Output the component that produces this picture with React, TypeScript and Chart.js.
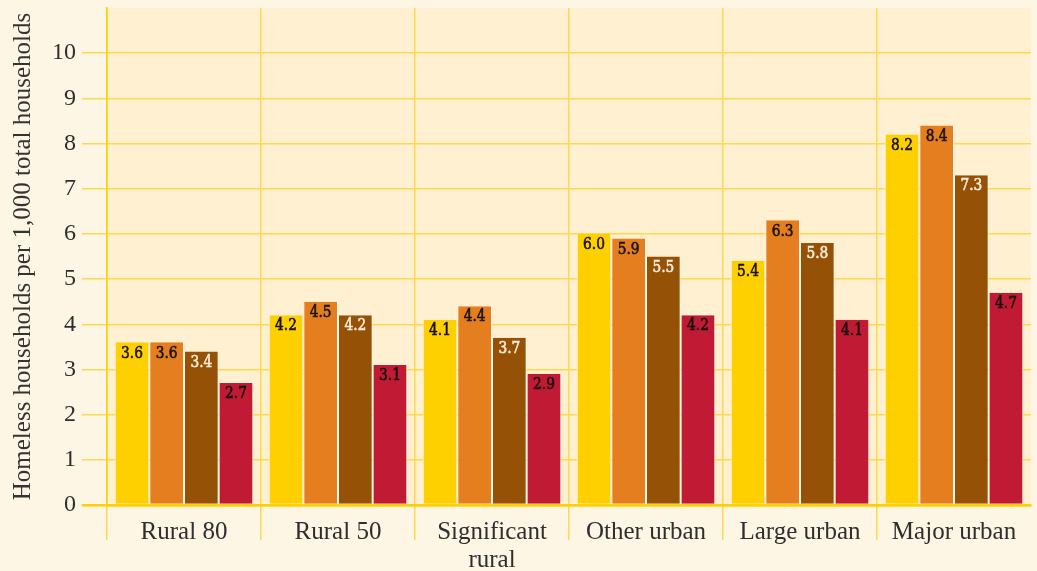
import { useEffect, useRef } from 'react';
import { Chart, registerables } from 'chart.js';

Chart.register(...registerables);

const categories: (string | string[])[] = [
  'Rural 80',
  'Rural 50',
  ['Significant', 'rural'],
  'Other urban',
  'Large urban',
  'Major urban',
];
const series1 = [3.6, 4.2, 4.1, 6.0, 5.4, 8.2];
const series2 = [3.6, 4.5, 4.4, 5.9, 6.3, 8.4];
const series3 = [3.4, 4.2, 3.7, 5.5, 5.8, 7.3];
const series4 = [2.7, 3.1, 2.9, 4.2, 4.1, 4.7];
const seriesNames = ['Series 1', 'Series 2', 'Series 3', 'Series 4'];
const yTickValues = [0, 1, 2, 3, 4, 5, 6, 7, 8, 9, 10];
const yAxisTitle = 'Homeless households per 1,000 total households';

const PAGE_BG = '#fef6e5';
const PLOT_BG = '#fff0d1';
const GOLD = '#ffd84d';
const GOLD_STRONG = '#ffd000';
const barColors = ['#ffd000', '#e47e1f', '#955206', '#c01a34'];
const labelColors = ['#1a1410', '#1a1410', '#f8ecd8', '#1a1010'];

const bgPlugin = {
  id: 'bgPlugin',
  beforeDraw(chart: any) {
    const { ctx, chartArea } = chart;
    ctx.save();
    ctx.fillStyle = PAGE_BG;
    ctx.fillRect(0, 0, chart.width, chart.height);
    ctx.fillStyle = PLOT_BG;
    ctx.fillRect(chartArea.left, chartArea.top, chartArea.right - chartArea.left, chartArea.bottom - chartArea.top);
    ctx.restore();
  },
};

const LABEL_SCALE_X = 0.86;

const valueLabelPlugin = {
  id: 'valueLabelPlugin',
  afterDatasetsDraw(chart: any) {
    const { ctx } = chart;
    chart.data.datasets.forEach((ds: any, di: number) => {
      const meta = chart.getDatasetMeta(di);
      meta.data.forEach((el: any, i: number) => {
        const v = ds.data[i] as number;
        const txt = v.toFixed(1);
        ctx.save();
        ctx.font = '16px "DejaVu Serif"';
        ctx.textAlign = 'center';
        ctx.textBaseline = 'middle';
        ctx.fillStyle = labelColors[di];
        ctx.strokeStyle = labelColors[di];
        ctx.lineWidth = 0.6;
        ctx.translate(el.x, el.y + 11);
        ctx.scale(LABEL_SCALE_X, 1);
        ctx.fillText(txt, 0, 0);
        ctx.strokeText(txt, 0, 0);
        ctx.restore();
      });
    });
  },
};

export default function App() {
  const ref = useRef<HTMLCanvasElement>(null);

  useEffect(() => {
    document.body.style.margin = '0';
    document.body.style.background = PAGE_BG;
    const all = [series1, series2, series3, series4];
    const chart = new Chart(ref.current!, {
      type: 'bar',
      data: {
        labels: categories as any,
        datasets: all.map((d, i) => ({
          label: seriesNames[i],
          data: d,
          backgroundColor: barColors[i],
          borderColor: '#fff8ec',
          borderWidth: { left: 1, right: 1, top: 0, bottom: 0 },
          borderSkipped: false,
          barPercentage: 1,
          categoryPercentage: 0.9,
        })),
      },
      options: {
        animation: false,
        responsive: false,
        maintainAspectRatio: false,
        layout: { padding: { top: 8, right: 6, bottom: 0, left: 0 } },
        plugins: {
          legend: { display: false },
          tooltip: { enabled: false },
        },
        scales: {
          x: {
            offset: true,
            grid: {
              offset: true,
              color: (c: any) => (c.tick ? GOLD : 'rgba(0,0,0,0)'),
              lineWidth: 1.5,
              tickLength: 35,
              drawTicks: true,
            },
            border: { display: true, color: GOLD_STRONG, width: 2.5 },
            ticks: {
              color: '#2e2e2e',
              font: { family: '"Liberation Serif"', size: 25, lineHeight: 1.1 },
              padding: -21,
              maxRotation: 0,
              autoSkip: false,
            },
            afterFit: (s: any) => {
              s.height = 66;
              s.paddingLeft = 0;
              s.paddingRight = 0;
            },
          },
          y: {
            min: 0,
            max: 11,
            afterBuildTicks: (s: any) => {
              s.ticks = [...yTickValues.map((v) => ({ value: v })), { value: 11 }];
            },
            grid: {
              color: (c: any) =>
                c.tick && c.tick.value === 11 ? 'rgba(0,0,0,0)' : c.tick && c.tick.value === 0 ? GOLD_STRONG : GOLD,
              lineWidth: (c: any) => (c.tick && c.tick.value === 0 ? 2.5 : 1.5),
              tickLength: 25,
            },
            border: { display: true, color: GOLD_STRONG, width: 1.5 },
            ticks: {
              color: '#2e2e2e',
              font: { family: '"Liberation Serif"', size: 24 },
              padding: 6,
              callback: (v: any) => (v === 11 ? '' : String(v)),
            },
            title: {
              display: true,
              text: yAxisTitle,
              color: '#333',
              font: { family: '"Liberation Serif"', size: 25 },
              padding: { top: 8, bottom: 0 },
            },
            afterFit: (s: any) => {
              s.width = 107;
              s.paddingTop = 0;
              s.paddingBottom = 0;
            },
          },
        },
      },
      plugins: [bgPlugin, valueLabelPlugin],
    });
    return () => chart.destroy();
  }, []);

  return <canvas ref={ref} width={1037} height={571} style={{ display: 'block' }} />;
}
